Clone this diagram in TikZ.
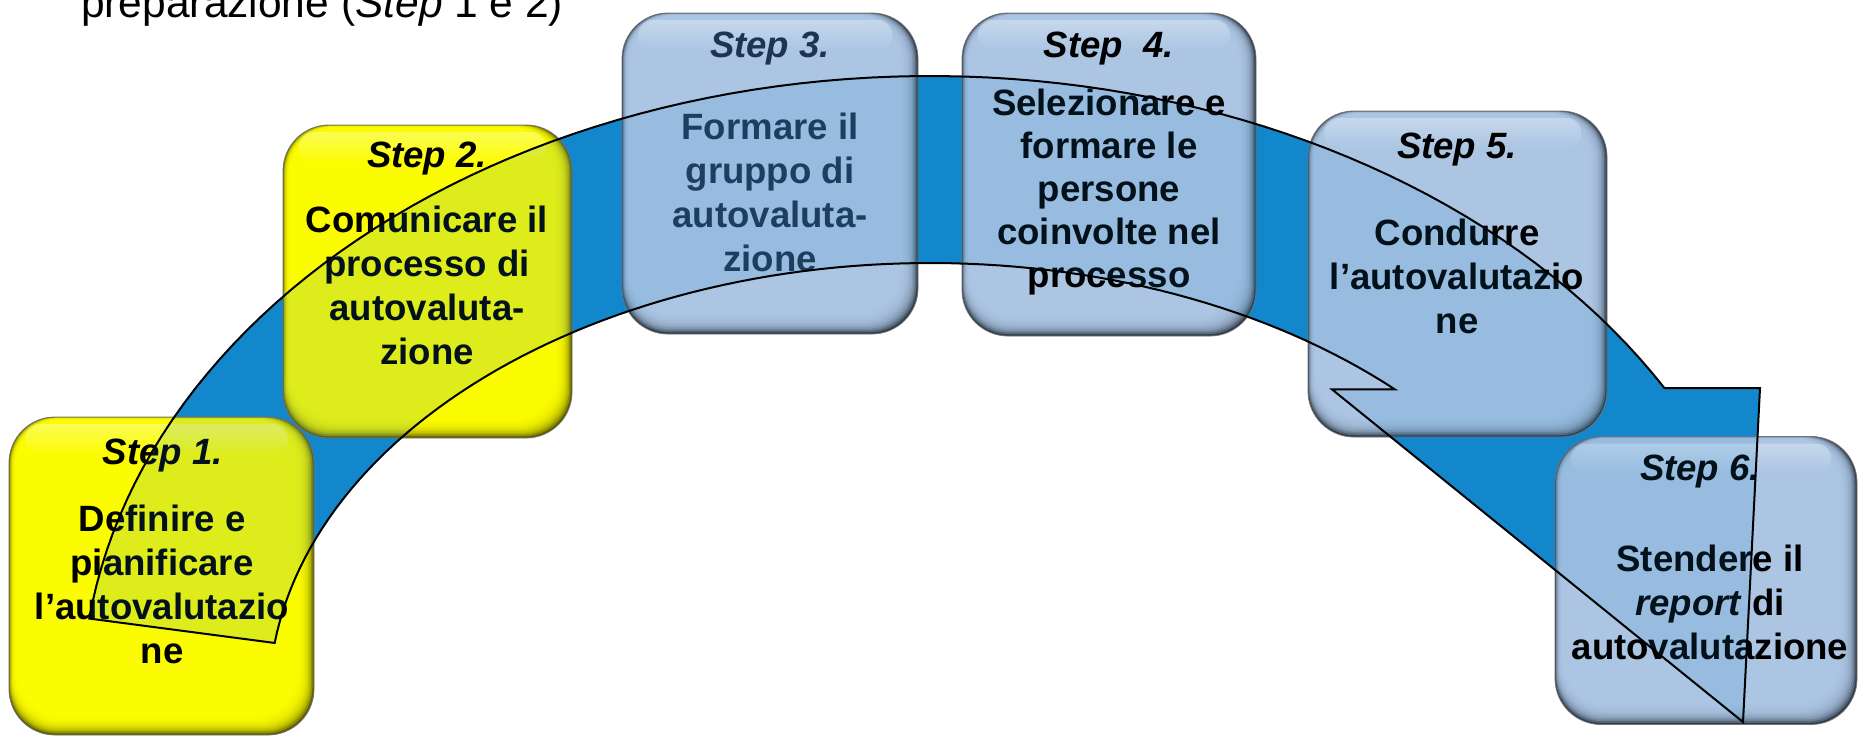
\documentclass[tikz,border=0pt]{standalone}
\usepackage{fontspec}
\setmainfont{Liberation Sans}
\usetikzlibrary{fadings}

\definecolor{arrowblue}{HTML}{1287CB}
\definecolor{yelbase}{HTML}{FFFF00}
\definecolor{yeledge}{HTML}{5E5E00}
\definecolor{bluebase}{HTML}{AEC8E6}
\definecolor{blueedge}{HTML}{2E3B49}
\definecolor{slatetext}{HTML}{1F3450}

% soft highlight along the top of each box
\tikzfading[name=hlband, top color=transparent!35, bottom color=transparent!100]

% the curved process arrow: two elliptic arcs (centre 930,700) joined by the head and the tail
\def\arcarrow{%
  plot[domain=172.5:30, samples=90, variable=\t] ({930+848*cos(\t)}, {700-624*sin(\t)})
  -- (1760,{700-624*sin(30)}) -- (1743,722) -- (1332,{700-437*sin(45.3)})
  -- plot[domain=45.3:172.5, samples=90, variable=\t] ({930+661*cos(\t)}, {700-437*sin(\t)})
  -- cycle}

\tikzset{
  stepbox/.style 2 args={
    rectangle, rounded corners=46pt, inner sep=0pt,
    fill=#2, draw=black!55, line width=0.8pt,
    path picture={
      \foreach \k in {1,...,12}{
        \fill[#1, fill opacity=0.3, rounded corners=46pt]
          ([xshift={0.6pt*\k}, yshift={-0.2pt*\k}]path picture bounding box.north west)
          rectangle
          ([xshift={-1.5pt*\k}, yshift={1.7pt*\k}]path picture bounding box.south east);
      }
      \fill[white, fill opacity=0.5, path fading=hlband, rounded corners=14pt]
        ([xshift=16pt, yshift=-7pt]path picture bounding box.north west)
        rectangle
        ([xshift=-26pt, yshift=-38pt]path picture bounding box.north east);
    }
  },
  steplabel/.style={font=\fontsize{36.6}{44}\selectfont\bfseries\itshape, inner sep=0pt},
  stepbody/.style={font=\fontsize{36.6}{44}\selectfont\bfseries, align=center, inner sep=0pt},
  titletext/.style={font=\fontsize{42.5}{50}\selectfont, inner sep=0pt}
}

\begin{document}
\begin{tikzpicture}[x=1pt, y=-1pt]
  \useasboundingbox (0,0) rectangle (1858,737);
  \clip (0,0) rectangle (1858,737);

  % heading line
  \node[titletext, anchor=base west] (title) at (81,17) {preparazione (\textit{Step} 1 e 2)};

  % arrow body, behind the boxes
  \fill[arrowblue] \arcarrow;

  % step boxes
  \node[stepbox={yelbase}{yeledge}, minimum width=305pt, minimum height=318pt] (b1) at (161.5,576) {};
  \node[stepbox={yelbase}{yeledge}, minimum width=289pt, minimum height=313pt] (b2) at (427.5,281.5) {};
  \node[stepbox={bluebase}{blueedge}, minimum width=296pt, minimum height=321pt] (b3) at (770,173.5) {};
  \node[stepbox={bluebase}{blueedge}, minimum width=294pt, minimum height=323pt] (b4) at (1109,174.5) {};
  \node[stepbox={bluebase}{blueedge}, minimum width=299pt, minimum height=326pt] (b5) at (1457.5,274) {};
  \node[stepbox={bluebase}{blueedge}, minimum width=302pt, minimum height=288pt] (b6) at (1706,580.5) {};

  % box texts (body nodes are anchored on the baseline of their last line)
  \node[steplabel, anchor=base] (s1) at (163,464) {Step 1.};
  \node[stepbody, anchor=base] (d1) at (162,663) {Definire e\\pianificare\\l’autovalutazio\\ne};

  \node[steplabel, anchor=base] (s2) at (427,167) {Step 2.};
  \node[stepbody, anchor=base] (d2) at (427,364) {Comunicare il\\processo di\\autovaluta-\\zione};

  \node[steplabel, anchor=base, text=slatetext] (s3) at (770,57) {Step 3.};
  \node[stepbody, anchor=base, text=slatetext] (d3) at (770,271) {Formare il\\gruppo di\\autovaluta-\\zione};

  \node[steplabel, anchor=base] (s4) at (1109,57) {Step~~4.};
  \node[stepbody, anchor=base, font=\fontsize{36.6}{43}\selectfont\bfseries] (d4) at (1109,287) {Selezionare e\\formare le\\persone\\coinvolte nel\\processo};

  \node[steplabel, anchor=base] (s5) at (1457,158) {Step 5.};
  \node[stepbody, anchor=base] (d5) at (1457,333) {Condurre\\l’autovalutazio\\ne};

  \node[steplabel, anchor=base] (s6) at (1700,480) {Step 6.};
  \node[stepbody, anchor=base] (d6) at (1710,659) {Stendere il\\\textit{report} di\\autovalutazione};

  % translucent arrow overlay and its outline, in front of everything
  \fill[arrowblue, fill opacity=0.13] \arcarrow;
  \draw[black, line width=2pt, line join=miter] \arcarrow;
\end{tikzpicture}
\end{document}
